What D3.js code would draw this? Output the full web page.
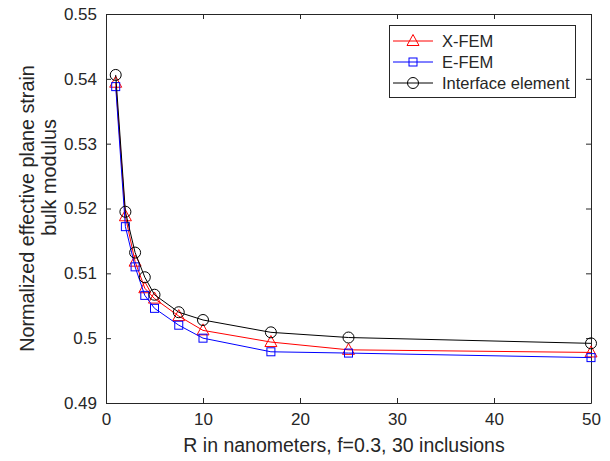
<!DOCTYPE html>
<html><head><meta charset="utf-8">
<script src="https://cdn.jsdelivr.net/npm/d3@7"></script>
<style>body{margin:0;background:#fff}svg{display:block}text{font-family:"Liberation Sans",Arial,sans-serif;fill:#262626}</style>
</head><body>
<svg id="c" width="610" height="461"></svg>
<script>
const radius = [1, 2, 3, 4, 5, 7.5, 10, 17, 25, 50];
const xfem = [0.5394, 0.5188, 0.5118, 0.5077, 0.5061, 0.5034, 0.5012, 0.4994, 0.4982, 0.4978];
const efem = [0.5388, 0.5172, 0.5110, 0.5066, 0.5046, 0.5020, 0.5000, 0.4979, 0.4977, 0.4970];
const iface = [0.5406, 0.5195, 0.5132, 0.5094, 0.5067, 0.5040, 0.5028, 0.5009, 0.5001, 0.4992];
const xTicks = [0, 10, 20, 30, 40, 50];
const yTicks = [0.49, 0.5, 0.51, 0.52, 0.53, 0.54, 0.55];
const seriesNames = ["X-FEM", "E-FEM", "Interface element"];

const svg = d3.select("#c");
const L = 106, R = 591, T = 14, B = 403;
const x = d3.scaleLinear().domain([0, 50]).range([L, R]);
const y = d3.scaleLinear().domain([0.49, 0.55]).range([B, T]);
const axisCol = "#262626";

const gx = svg.append("g").attr("transform", `translate(0,${B})`)
  .call(d3.axisBottom(x).tickValues(xTicks).tickSizeInner(-5).tickSizeOuter(0).tickPadding(9).tickFormat(d3.format("d")));
const gxTop = svg.append("g").attr("transform", `translate(0,${T})`)
  .call(d3.axisTop(x).tickValues(xTicks).tickSizeInner(-5).tickSizeOuter(0).tickFormat(""));
const gy = svg.append("g").attr("transform", `translate(${L},0)`)
  .call(d3.axisLeft(y).tickValues(yTicks).tickSizeInner(-5).tickSizeOuter(0).tickPadding(9).tickFormat(d => String(+d.toFixed(2))));
const gyR = svg.append("g").attr("transform", `translate(${R},0)`)
  .call(d3.axisRight(y).tickValues(yTicks).tickSizeInner(-5).tickSizeOuter(0).tickFormat(""));
[gx, gxTop, gy, gyR].forEach(g => {
  g.selectAll("path.domain").attr("stroke", axisCol).attr("stroke-width", 1);
  g.selectAll(".tick line").attr("stroke", axisCol);
  g.selectAll("text").style("font-size", "17px").attr("fill", axisCol);
});
gx.selectAll("text").attr("dy", "0.75em");

svg.append("text").attr("x", 344).attr("y", 452).attr("text-anchor", "middle")
  .style("font-size", "19.5px").text("R in nanometers, f=0.3, 30 inclusions");
svg.append("text").attr("transform", "translate(34,208.5) rotate(-90)").attr("text-anchor", "middle")
  .style("font-size", "19.8px").text("Normalized effective plane strain");
svg.append("text").attr("transform", "translate(56,177.5) rotate(-90)").attr("text-anchor", "middle")
  .style("font-size", "19.8px").text("bulk modulus");

const series = [
  {name: seriesNames[0], vals: xfem, color: "#ff0000", marker: "tri"},
  {name: seriesNames[1], vals: efem, color: "#0000ff", marker: "sq"},
  {name: seriesNames[2], vals: iface, color: "#000000", marker: "circ"}
];
function drawMarker(g, type, cx, cy, color) {
  if (type === "tri") {
    g.append("path").attr("d", `M${cx},${cy-6.5} L${cx+6},${cy+4.5} L${cx-6},${cy+4.5} Z`)
      .attr("fill", "none").attr("stroke", color).attr("stroke-width", 1);
  } else if (type === "sq") {
    g.append("rect").attr("x", cx-4).attr("y", cy-4).attr("width", 8).attr("height", 8)
      .attr("fill", "none").attr("stroke", color).attr("stroke-width", 1);
  } else {
    g.append("circle").attr("cx", cx).attr("cy", cy).attr("r", 5.5)
      .attr("fill", "none").attr("stroke", color).attr("stroke-width", 1);
  }
}
const line = d3.line().x(d => x(d[0])).y(d => y(d[1]));
series.forEach(s => {
  const pts = radius.map((r, i) => [r, s.vals[i]]);
  const g = svg.append("g");
  g.append("path").attr("d", line(pts)).attr("fill", "none").attr("stroke", s.color).attr("stroke-width", 1);
  pts.forEach(p => drawMarker(g, s.marker, x(p[0]), y(p[1]), s.color));
});

const lg = svg.append("g");
lg.append("rect").attr("x", 389.5).attr("y", 25.5).attr("width", 186).attr("height", 72)
  .attr("fill", "#fff").attr("stroke", axisCol).attr("stroke-width", 1);
series.forEach((s, i) => {
  const yy = 41 + i * 21;
  lg.append("line").attr("x1", 393).attr("x2", 433).attr("y1", yy).attr("y2", yy).attr("stroke", s.color);
  drawMarker(lg, s.marker, 413, yy, s.color);
  lg.append("text").attr("x", 442).attr("y", yy).attr("dy", "0.35em").style("font-size", "16.5px").attr("fill", "#000").text(s.name);
});
</script>
</body></html>
